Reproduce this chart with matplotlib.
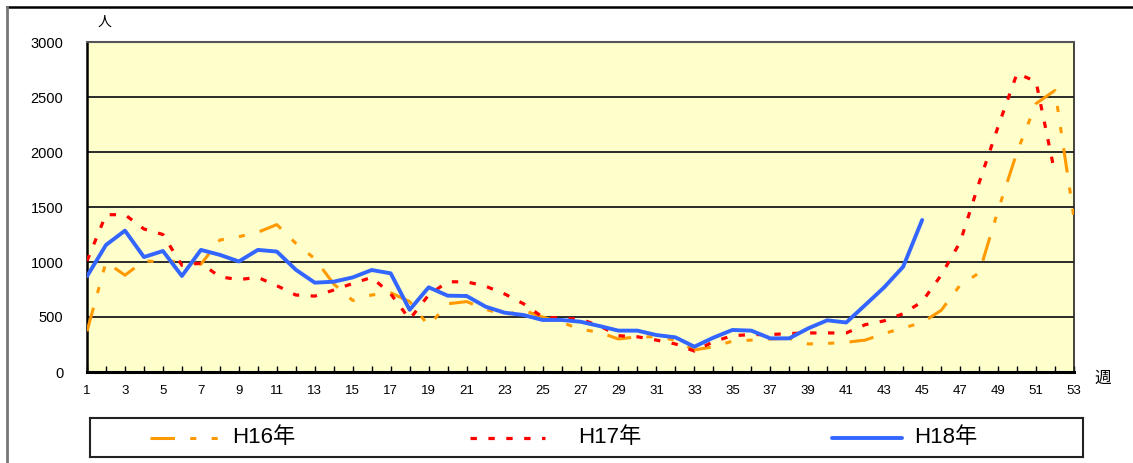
import matplotlib
matplotlib.use("Agg")
import matplotlib.pyplot as plt
from matplotlib.lines import Line2D

plt.rcParams['font.family'] = ['Liberation Sans', 'Noto Sans CJK JP', 'DejaVu Sans']

# Weekly patient counts per season
weeks_h16 = list(range(1, 54))
h16 = [370, 1000, 880, 1010, 1000, 1010, 980, 1200, 1230, 1270,
       1340, 1170, 1030, 800, 650, 700, 720, 640, 420, 620,
       640, 570, 520, 560, 500, 450, 390, 360, 300, 320,
       320, 290, 200, 230, 280, 290, 300, 305, 255, 260,
       270, 290, 350, 400, 450, 560, 790, 900, 1470, 2000,
       2440, 2560, 1400]

weeks_h17 = list(range(1, 53))
h17 = [1010, 1430, 1430, 1300, 1250, 970, 990, 865, 840, 860,
       785, 700, 690, 745, 805, 860, 710, 480, 700, 820,
       820, 780, 710, 620, 500, 490, 480, 420, 330, 320,
       290, 255, 190, 275, 330, 340, 340, 350, 355, 355,
       355, 430, 465, 530, 640, 880, 1180, 1720, 2230, 2715,
       2640, 1800]

weeks_h18 = list(range(1, 46))
h18 = [870, 1155, 1285, 1045, 1100, 873, 1110, 1065, 1005, 1110,
       1095, 930, 812, 821, 860, 927, 897, 565, 770, 694,
       691, 594, 539, 518, 473, 473, 457, 418, 376, 376,
       336, 315, 230, 312, 382, 376, 306, 306, 397, 470,
       450, 609, 770, 957, 1382]

series_labels = ['H16年', 'H17年', 'H18年']
y_ticks = [0, 500, 1000, 1500, 2000, 2500, 3000]
all_weeks = list(range(1, 54))
x_tick_labels = [str(w) if w % 2 == 1 else '' for w in all_weeks]
y_unit = '人'
x_unit = '週'

W, H = 1133, 463
fig = plt.figure(figsize=(W / 100, H / 100), dpi=100)
fig.patch.set_facecolor('white')

ax = fig.add_axes([87 / W, (H - 372) / H, (1074 - 87) / W, (372 - 42) / H])
ax.set_facecolor('#FFFFCC')
ax.set_xlim(1, 53)
ax.set_ylim(0, 3000)

for y in y_ticks[1:-1]:
    ax.axhline(y, color='#2a2a2a', lw=1.4, zorder=1)

styles = [
    dict(color='#FF9900', lw=2.2, dashes=(8, 5, 2, 5, 2, 5)),
    dict(color='#FF0000', lw=2.3, dashes=(2, 3.6)),
    dict(color='#3366FF', lw=2.8, solid_capstyle='round', solid_joinstyle='round'),
]

ax.plot(weeks_h16, h16, zorder=3, **styles[0])
ax.plot(weeks_h17, h17, zorder=4, **styles[1])
ax.plot(weeks_h18, h18, zorder=5, **styles[2])

ax.set_xticks(all_weeks)
ax.set_xticklabels(x_tick_labels)
ax.set_yticks(y_ticks)
ax.set_yticklabels([str(v) for v in y_ticks])
ax.tick_params(axis='x', direction='in', length=4, width=1, pad=9, labelsize=9.5)
ax.tick_params(axis='y', length=0, pad=17, labelsize=10.5)

ax.spines['left'].set_color('black')
ax.spines['left'].set_linewidth(1.8)
ax.spines['bottom'].set_color('black')
ax.spines['bottom'].set_linewidth(2.2)
ax.spines['top'].set_color('#555555')
ax.spines['top'].set_linewidth(1.5)
ax.spines['right'].set_color('#222222')
ax.spines['right'].set_linewidth(1.2)

fig.text(105 / W, 1 - 22 / H, y_unit, ha='center', va='center', fontsize=10)
fig.text(1103 / W, 1 - 378 / H, x_unit, ha='center', va='center', fontsize=12)

# outer frame of the chart object
fig.add_artist(Line2D([7 / W, 1], [1 - 7 / H, 1 - 7 / H], color='black', lw=1.8))
fig.add_artist(Line2D([7 / W, 7 / W], [0, 1 - 7 / H], color='#777777', lw=2))

# legend box
lax = fig.add_axes([90 / W, (H - 457) / H, 993 / W, 39 / H])
lax.set_xlim(90, 1083)
lax.set_ylim(0, 1)
lax.set_xticks([])
lax.set_yticks([])
for s in lax.spines.values():
    s.set_color('#222222')
    s.set_linewidth(1.5)

sample_x = [(150, 222), (470, 545), (832, 902)]
text_x = [232, 578, 914]
for (x0, x1), tx, lab, st in zip(sample_x, text_x, series_labels, styles):
    lax.plot([x0, x1], [0.5, 0.5], **st)
    lax.text(tx, 0.5, lab, ha='left', va='center', fontsize=16)

fig.savefig('out.png', dpi=100)
